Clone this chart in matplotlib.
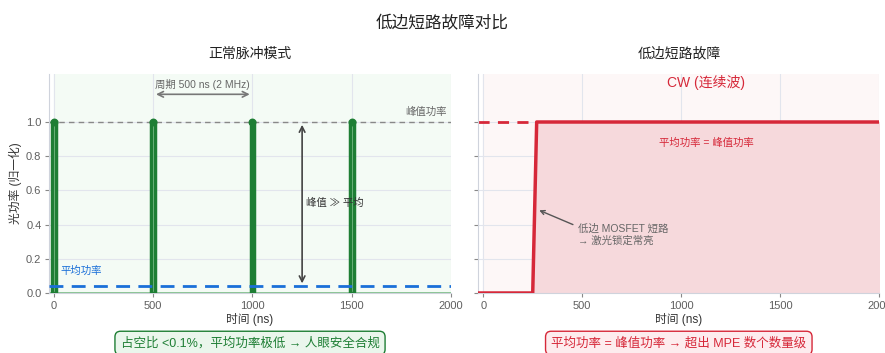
import matplotlib
matplotlib.use("Agg")
import matplotlib.pyplot as plt
import numpy as np

plt.rcParams["font.family"] = ["Liberation Sans", "Noto Sans CJK SC", "DejaVu Sans"]

# normal pulsed mode
pulse_times = [0, 500, 1000, 1500]   # ns
pulse_width = 20                     # ns (drawn wide so it is visible)
peak_power = 1.0
avg_power = 0.04

# low-side short: laser latches on
fault_t = [-25, 250, 270, 2000]
fault_p = [0.0, 0.0, 1.0, 1.0]

x_ticks = [0, 500, 1000, 1500, 2000]
y_ticks = [0.0, 0.2, 0.4, 0.6, 0.8, 1.0]

GREEN = "#1e7e34"
RED = "#d62839"
BLUE = "#1a6fd8"
GRAY = "#666666"

fig = plt.figure(figsize=(8.85, 3.53), dpi=100)
ax1 = fig.add_axes([0.0554, 0.170, 0.4542, 0.620])
ax2 = fig.add_axes([0.5404, 0.170, 0.4532, 0.620])

for ax in (ax1, ax2):
    ax.set_xlim(-25, 2000)
    ax.set_ylim(0, 1.28)
    ax.set_xticks(x_ticks)
    ax.set_yticks(y_ticks)
    ax.grid(True, color="#e2e5ed", linewidth=0.8, zorder=0)
    ax.set_axisbelow(True)
    for side in ("top", "right"):
        ax.spines[side].set_visible(False)
    for side in ("left", "bottom"):
        ax.spines[side].set_color("#cfd3dc")
    ax.tick_params(labelsize=8, colors="#5f5f5f", length=3, pad=2.5, color="#888888")
    ax.set_xlabel("时间 (ns)", fontsize=8.5, color="#333333", labelpad=2)

# ---- left: normal pulses ----
ax1.axvspan(0, 2000, color="#f4fbf5", zorder=0)
ax1.set_yticklabels([f"{v:.1f}" for v in y_ticks])
ax1.axhline(0, color="#7fbf8a", linewidth=2, zorder=2)
ax1.bar(pulse_times, peak_power, width=pulse_width, color="#a9d8b2",
        edgecolor=GREEN, linewidth=2.5, zorder=3)
ax1.scatter(pulse_times, [peak_power] * len(pulse_times), s=22, color=GREEN, zorder=4)
ax1.axhline(peak_power, color="#888888", linestyle=(0, (4, 3)), linewidth=1, zorder=2)
ax1.text(1980, 1.03, "峰值功率", fontsize=7.5, color=GRAY, ha="right", va="bottom")
ax1.axhline(avg_power, color=BLUE, linestyle=(0, (5, 3)), linewidth=2, zorder=5)
ax1.text(35, 0.13, "平均功率", fontsize=7.5, color=BLUE, ha="left", va="center")

ax1.annotate("", xy=(pulse_times[1], 1.162), xytext=(pulse_times[2], 1.162),
             arrowprops=dict(arrowstyle="<->", color="#777777", lw=1.2))
ax1.text(750, 1.222, "周期 500 ns (2 MHz)", fontsize=7.5, color=GRAY,
         ha="center", va="center")
ax1.annotate("", xy=(1250, peak_power), xytext=(1250, avg_power),
             arrowprops=dict(arrowstyle="<->", color="#444444", lw=1.2))
ax1.text(1270, 0.525, "峰值 ≫ 平均", fontsize=7.5, color="#333333",
         ha="left", va="center")

ax1.set_ylabel("光功率 (归一化)", fontsize=8.5, color="#333333", labelpad=3)
ax1.set_title("正常脉冲模式", fontsize=10, color="#222222", pad=12)

# ---- right: latched CW ----
ax2.axvspan(0, 2000, color="#fdf7f7", zorder=0)
ax2.set_yticklabels([])
ax2.fill_between(fault_t, fault_p, 0, color="#f6d9dc", zorder=1)
ax2.plot(fault_t, fault_p, color=RED, linewidth=2.5, zorder=3)
ax2.plot([-25, 270], [peak_power, peak_power], color=RED,
         linestyle=(0, (4, 3)), linewidth=2, zorder=2)
ax2.text(1125, 1.23, "CW (连续波)", fontsize=10, color=RED, ha="center", va="center")
ax2.text(1125, 0.88, "平均功率 = 峰值功率", fontsize=7.5, color=RED,
         ha="center", va="center")
ax2.annotate("低边 MOSFET 短路\n→ 激光锁定常亮", xy=(270, 0.49), xytext=(480, 0.34),
             fontsize=7.5, color=GRAY, ha="left", va="center", linespacing=1.3,
             arrowprops=dict(arrowstyle="->", color="#555555", lw=1,
                             relpos=(0.0, 0.85)))
ax2.set_title("低边短路故障", fontsize=10, color="#222222", pad=12)

fig.text(0.499, 0.935, "低边短路故障对比", fontsize=12, color="#222222",
         ha="center", va="center")

fig.text(0.2825, 0.028, "占空比 <0.1%，平均功率极低 → 人眼安全合规", fontsize=9,
         color=GREEN, ha="center", va="center",
         bbox=dict(boxstyle="round,pad=0.45", facecolor="#eaf6ec", edgecolor=GREEN, lw=1))
fig.text(0.767, 0.028, "平均功率 = 峰值功率 → 超出 MPE 数个数量级", fontsize=9,
         color=RED, ha="center", va="center",
         bbox=dict(boxstyle="round,pad=0.45", facecolor="#fdecee", edgecolor=RED, lw=1))

fig.savefig("out.png", dpi=100)
